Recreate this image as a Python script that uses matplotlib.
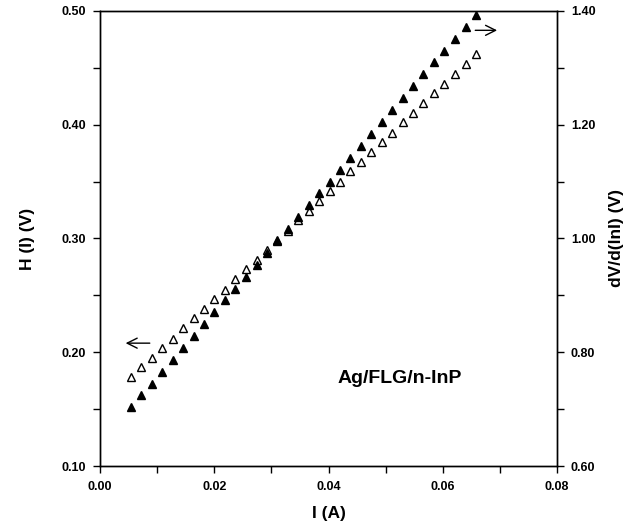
import matplotlib
matplotlib.use("Agg")
import matplotlib.pyplot as plt
from matplotlib.ticker import MultipleLocator, FormatStrFormatter

plt.rcParams['font.family'] = ['Liberation Sans', 'DejaVu Sans']
plt.rcParams['font.weight'] = 'bold'

# ток I (A)
current = [0.0054, 0.0072, 0.0091, 0.0109, 0.0127, 0.0146, 0.0164, 0.0182,
           0.0200, 0.0219, 0.0237, 0.0255, 0.0274, 0.0292, 0.0310, 0.0329,
           0.0347, 0.0365, 0.0383, 0.0402, 0.0420, 0.0438, 0.0457, 0.0475,
           0.0493, 0.0512, 0.0530, 0.0548, 0.0566, 0.0585, 0.0603, 0.0621,
           0.0640, 0.0658]
# H(I), левая ось (открытые треугольники)
h_values = [0.178, 0.187, 0.195, 0.204, 0.212, 0.221, 0.230, 0.238,
            0.247, 0.255, 0.264, 0.273, 0.281, 0.290, 0.299, 0.307,
            0.316, 0.324, 0.333, 0.342, 0.350, 0.359, 0.367, 0.376,
            0.385, 0.393, 0.402, 0.410, 0.419, 0.428, 0.436, 0.445,
            0.453, 0.462]
# dV/d(lnI), правая ось (закрашенные треугольники)
dv_values = [0.703, 0.724, 0.745, 0.766, 0.787, 0.808, 0.828, 0.849,
             0.870, 0.891, 0.912, 0.933, 0.954, 0.975, 0.996, 1.017,
             1.038, 1.059, 1.080, 1.100, 1.121, 1.142, 1.163, 1.184,
             1.205, 1.226, 1.247, 1.268, 1.289, 1.310, 1.330, 1.351,
             1.372, 1.393]

fig = plt.figure(figsize=(6.4, 5.28), dpi=100)
ax = fig.add_axes([0.15625, 0.1174, 0.7141, 0.8618])
ax2 = ax.twinx()

ax.plot(current, h_values, linestyle='none', marker='^', markersize=5.5,
        markerfacecolor='white', markeredgecolor='black', markeredgewidth=1.0)
ax2.plot(current, dv_values, linestyle='none', marker='^', markersize=5.5,
         color='black')

ax.set_xlim(0, 0.08)
ax.set_ylim(0.10, 0.50)
ax2.set_ylim(0.60, 1.40)

ax.xaxis.set_major_locator(MultipleLocator(0.02))
ax.xaxis.set_minor_locator(MultipleLocator(0.01))
ax.yaxis.set_major_locator(MultipleLocator(0.10))
ax.yaxis.set_minor_locator(MultipleLocator(0.05))
ax2.yaxis.set_major_locator(MultipleLocator(0.20))
ax2.yaxis.set_minor_locator(MultipleLocator(0.10))
ax.xaxis.set_major_formatter(FormatStrFormatter('%.2f'))
ax.yaxis.set_major_formatter(FormatStrFormatter('%.2f'))
ax2.yaxis.set_major_formatter(FormatStrFormatter('%.2f'))

for a in (ax, ax2):
    a.tick_params(which='both', direction='out', length=5, width=1.0,
                  labelsize=9, pad=5)
    for s in a.spines.values():
        s.set_linewidth(1.0)
ax.tick_params(axis='x', which='both', top=False, pad=6)
ax2.tick_params(axis='x', which='both', top=False)

ax.set_xlabel('I (A)', fontsize=12.5, fontweight='bold', labelpad=9)
ax.set_ylabel('H (I) (V)', fontsize=12.5, fontweight='bold', labelpad=19)
ax2.set_ylabel('dV/d(lnI) (V)', fontsize=12.5, fontweight='bold', labelpad=10)

ax.text(0.0525, 0.177, 'Ag/FLG/n-InP', fontsize=14, fontweight='bold',
        ha='center', va='center')

# стрелки, указывающие на оси
ax.annotate('', xy=(0.0040, 0.208), xytext=(0.0092, 0.208),
            arrowprops=dict(arrowstyle='->', lw=1.0, color='black',
                            mutation_scale=18))
ax.annotate('', xy=(0.0700, 0.483), xytext=(0.0652, 0.483),
            arrowprops=dict(arrowstyle='->', lw=1.0, color='black',
                            mutation_scale=18))

fig.savefig('out.png', dpi=100)
